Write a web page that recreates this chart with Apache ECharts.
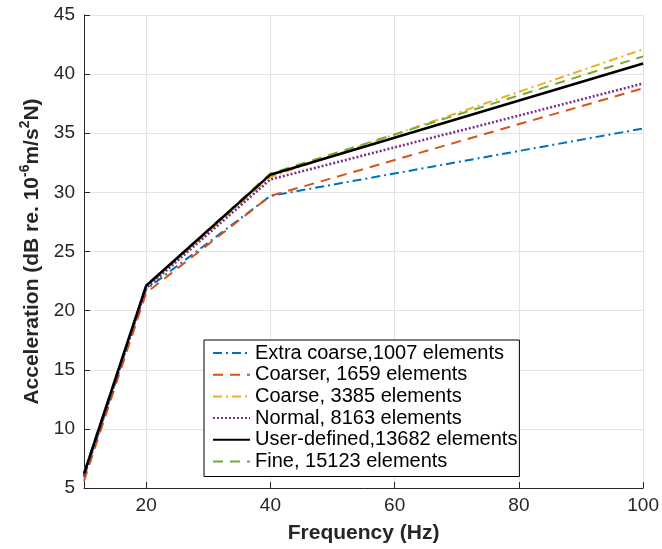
<!DOCTYPE html>
<html>
<head>
<meta charset="utf-8">
<script src="https://cdn.jsdelivr.net/npm/echarts@6/dist/echarts.min.js"></script>
<style>html,body{margin:0;padding:0;background:#fff}#c{width:662px;height:549px}</style>
</head>
<body>
<div id="c"></div>
<script>
var freq = [10, 20, 40, 100];
var xTicks = [20, 40, 60, 80, 100];
var seriesNames = ['Extra coarse,1007 elements', 'Coarser, 1659 elements', 'Coarse, 3385 elements', 'Normal, 8163 elements', 'User-defined,13682 elements', 'Fine, 15123 elements'];
var extraCoarse = [5.9, 21.8, 29.7, 35.4];
var coarser = [5.6, 21.5, 29.7, 38.8];
var coarse = [6.1, 22.0, 31.3, 42.1];
var normal = [6.0, 21.9, 31.1, 39.2];
var userDefined = [6.2, 22.1, 31.5, 40.9];
var fine = [6.3, 22.1, 31.6, 41.5];

var colors = ['#0072BD', '#D95319', '#EDB120', '#7E2F8E', '#000000', '#77AC30'];
var dashes = [[9, 4, 2, 4], [10, 7], [9, 4, 2, 4], [2, 2], 'solid', [10, 7]];
var widths = [2, 2, 2, 2.6, 2.6, 2];
var values = [extraCoarse, coarser, coarse, normal, userDefined, fine];

function pairs(v) { return freq.map(function (f, i) { return [f, v[i]]; }); }

var series = values.map(function (v, i) {
  return {
    name: seriesNames[i], type: 'line', data: pairs(v), symbol: 'none',
    lineStyle: { color: colors[i], width: widths[i], type: dashes[i] },
    itemStyle: { color: colors[i] }, z: (i === 4 ? 3 : 2), animation: false
  };
});

var FF = 'Liberation Sans, Arial, Helvetica, sans-serif';
var chart = echarts.init(document.getElementById('c'));
chart.setOption({
  animation: false,
  textStyle: { fontFamily: FF },
  grid: { left: 84, right: 17, top: 15, bottom: 61 },
  xAxis: {
    type: 'value', min: 10, max: 100,
    name: 'Frequency (Hz)', nameLocation: 'middle', nameGap: 35,
    nameTextStyle: { fontSize: 21, fontWeight: 'bold', color: '#262626' },
    axisLine: { lineStyle: { color: '#262626', width: 1 } },
    axisTick: { inside: true, length: 6, customValues: xTicks, lineStyle: { color: '#262626' } },
    axisLabel: { customValues: xTicks, fontSize: 19, color: '#262626', margin: 8 },
    splitLine: { show: true, lineStyle: { color: '#e3e3e3', width: 1 } }
  },
  yAxis: {
    type: 'value', min: 5, max: 45, interval: 5,
    name: '{b|Acceleration (dB re. 10}{s|-6}{b|m/s}{s|2}{b|N)}', nameLocation: 'middle', nameGap: 38,
    nameTextStyle: {
      rich: {
        b: { fontSize: 21, fontWeight: 'bold', color: '#262626', fontFamily: FF, lineHeight: 28 },
        s: { fontSize: 14, fontWeight: 'bold', color: '#262626', fontFamily: FF, verticalAlign: 'top', lineHeight: 14 }
      }
    },
    axisLine: { show: true, lineStyle: { color: '#262626', width: 1 } },
    axisTick: { show: true, inside: true, length: 6, lineStyle: { color: '#262626' } },
    axisLabel: { fontSize: 19, color: '#262626', margin: 9 },
    splitLine: { show: true, lineStyle: { color: '#e3e3e3', width: 1 } }
  },
  legend: {
    orient: 'vertical', left: 204, top: 340,
    backgroundColor: '#fff', borderColor: '#000', borderWidth: 1,
    padding: [3, 2, 5, 8], itemGap: 1.7, itemWidth: 37, itemHeight: 14,
    itemStyle: { opacity: 0 },
    textStyle: { fontSize: 20, color: '#000', lineHeight: 20 },
    data: seriesNames
  },
  series: series
});
</script>
</body>
</html>
